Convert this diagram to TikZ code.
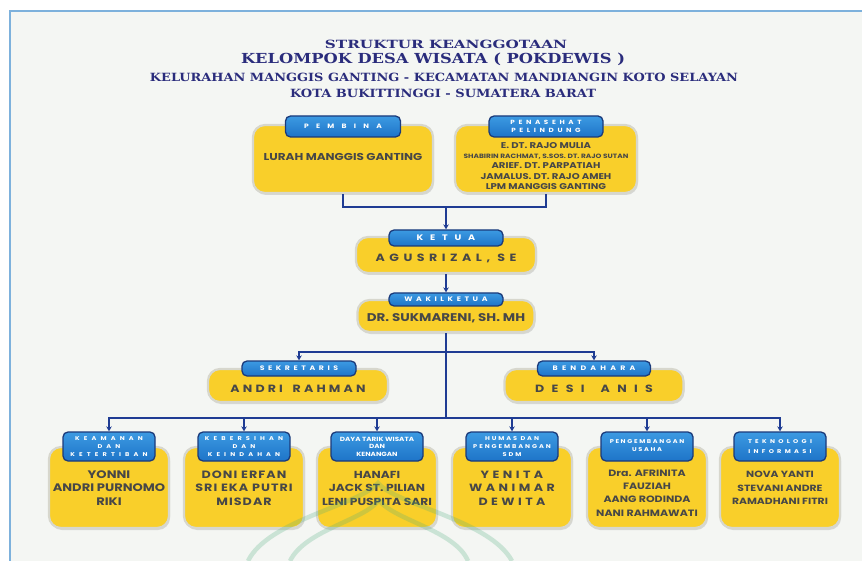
\documentclass[tikz,border=0pt]{standalone}
\usepackage{fontspec}
\setmainfont{Poppins}
\newfontfamily\wf{Poppins}[FakeStretch=1.2]
\newfontfamily\titlefont{DejaVu Serif}
\usetikzlibrary{arrows.meta,shadows}
\definecolor{ycol}{HTML}{F9CF2A}
\definecolor{bgcol}{HTML}{F4F6F3}
\definecolor{framecol}{HTML}{7DB1DC}
\definecolor{navy}{HTML}{1F3C93}
\definecolor{lblborder}{HTML}{1B3A7A}
\definecolor{btop}{HTML}{3C9AE2}
\definecolor{bbot}{HTML}{1E74C8}
\definecolor{tcol}{HTML}{474747}
\definecolor{titlecol}{HTML}{2A2C7C}
\definecolor{wmcol}{HTML}{4FAE7C}
\newcommand{\lsp}[2]{{\addfontfeatures{LetterSpace=#1}#2}}
\newcommand{\fs}[2]{\fontsize{#1}{#2}\selectfont}
\tikzset{
  ybox/.style={rectangle, rounded corners=12pt, fill=ycol, draw={rgb,255:red,215;green,215;blue,205}, line width=2.2pt,
    drop shadow={opacity=0.25, shadow xshift=1pt, shadow yshift=-2pt}, inner sep=0pt},
  blbl/.style={rectangle, rounded corners=5pt, top color=btop, bottom color=bbot, draw=lblborder, line width=1.3pt,
    inner sep=0pt, text=white, font=\bfseries\fs{6.5}{7.5}, align=center},
  txt/.style={inner sep=0pt, text=tcol, align=center, font=\wf\bfseries\fs{10}{13.5}},
  conn/.style={draw=navy, line width=2pt},
  arr/.style={-{Stealth[length=5pt,width=5.5pt]}},
  ttl/.style={inner sep=0pt, text=titlecol}
}
\begin{document}
\begin{tikzpicture}[x=1pt,y=-1pt]
\useasboundingbox (0,0) rectangle (862,561);
\fill[white] (0,0) rectangle (862,561);
\fill[bgcol] (10,11) rectangle (862,561);
\draw[framecol, line width=1.5pt] (10,561) -- (10,11) -- (862,11);

% title
\node[ttl] (t1) at (446,44) {\resizebox{242pt}{8.4pt}{\titlefont\bfseries STRUKTUR KEANGGOTAAN}};
\node[ttl] (t2) at (433,59.5) {\resizebox{384pt}{10.5pt}{\titlefont\bfseries KELOMPOK DESA WISATA ( POKDEWIS )}};
\node[ttl] (t3) at (444,77) {\resizebox{588pt}{8.4pt}{\titlefont\bfseries KELURAHAN MANGGIS GANTING - KECAMATAN MANDIANGIN KOTO SELAYAN}};
\node[ttl] (t4) at (443,93) {\resizebox{306pt}{8.4pt}{\titlefont\bfseries KOTA BUKITTINGGI - SUMATERA BARAT}};

% coordinates of connectors
\coordinate (j1) at (446,207);
\coordinate (m) at (446,352);
\coordinate (b) at (446,418);

% boxes
\node[ybox, minimum width=180pt, minimum height=68pt] (pembina) at (343,159) {};
\node[ybox, minimum width=182pt, minimum height=68pt] (penasehat) at (546,159) {};
\node[ybox, minimum width=180pt, minimum height=36pt] (ketua) at (446,255) {};
\node[ybox, minimum width=177pt, minimum height=32pt] (wakil) at (446,316) {};
\node[ybox, minimum width=180pt, minimum height=33pt] (sek) at (298,385.5) {};
\node[ybox, minimum width=179pt, minimum height=33pt] (ben) at (594,385.5) {};
\foreach \n/\cx in {k1/109,k2/244,k3/377,k4/512,k5/647,k6/780}{
  \node[ybox, minimum width=120pt, minimum height=81pt] (\n) at (\cx,487.5) {};
}

% connectors
\draw[conn] (pembina.south) |- (j1);
\draw[conn] (penasehat.south) |- (j1);
\draw[conn] (wakil.south) -- (b);

% labels
\node[blbl, minimum width=115pt, minimum height=21pt, font=\wf\bfseries\fs{6.3}{7.5}] (pembinaL) at (343,126.5) {\lsp{115}{PEMBINA}};
\node[blbl, minimum width=114pt, minimum height=21pt, font=\wf\bfseries\fs{6}{8.5}] (penasehatL) at (546,126.5) {\lsp{60}{PENASEHAT}\\\lsp{60}{PELINDUNG}};
\node[blbl, minimum width=114pt, minimum height=16pt, font=\wf\bfseries\fs{8}{9}] (ketuaL) at (446,238) {\lsp{85}{KETUA}};
\node[blbl, minimum width=114pt, minimum height=13pt, font=\wf\bfseries\fs{6.5}{7.5}] (wakilL) at (446,299.5) {\lsp{55}{WAKILKETUA}};
\node[blbl, minimum width=114pt, minimum height=15pt, font=\wf\bfseries\fs{6.5}{7.5}] (sekL) at (299,368.5) {\lsp{55}{SEKRETARIS}};
\node[blbl, minimum width=113pt, minimum height=15pt, font=\wf\bfseries\fs{6.5}{7.5}] (benL) at (594,368.5) {\lsp{65}{BENDAHARA}};

\draw[conn,arr] (j1) -- (ketuaL.north);
\draw[conn,arr] (ketua.south) -- (wakilL.north);
\draw[conn,arr] (m) -| (sekL.north);
\draw[conn,arr] (m) -| (benL.north);

\tikzset{blbs/.style={blbl, minimum width=92pt, minimum height=29pt, font=\wf\bfseries\fs{5.5}{7.6}}}
\node[blbs] (k1L) at (109,446.5) {\lsp{75}{KEAMANAN}\\\lsp{75}{DAN}\\\lsp{75}{KETERTIBAN}};
\node[blbs] (k2L) at (244,446.5) {\lsp{75}{KEBERSIHAN}\\\lsp{75}{DAN}\\\lsp{75}{KEINDAHAN}};
\node[blbs, font=\wf\bfseries\fs{6}{7.6}] (k3L) at (377,446.5) {DAYA TARIK WISATA\\DAN\\KENANGAN};
\node[blbs] (k4L) at (512,446.5) {\lsp{35}{HUMAS DAN}\\\lsp{35}{PENGEMBANGAN}\\\lsp{35}{SDM}};
\node[blbs, text height=10pt] (k5L) at (647,446.5) {\lsp{30}{PENGEMBANGAN}\\\lsp{30}{USAHA}};
\node[blbs, font=\wf\bfseries\fs{5.5}{10}] (k6L) at (780,446.5) {\lsp{60}{TEKNOLOGI}\\\lsp{60}{INFORMASI}};

\foreach \n in {k1,k2,k3,k4,k5,k6}{
  \draw[conn,arr] (b) -| (\n L.north);
}

% texts
\node[txt] (pembinaT) at (343,157) {LURAH MANGGIS GANTING};
\node[txt, font=\wf\bfseries\fs{8.4}{10.3}] (penasehatT) at (546,166)
  {E. DT. RAJO MULIA\\{\fs{6.2}{10.3}SHABIRIN RACHMAT, S.SOS. DT. RAJO SUTAN}\\ARIEF. DT. PARPATIAH\\JAMALUS. DT. RAJO AMEH\\LPM MANGGIS GANTING};
\node[txt, font=\wf\bfseries\fs{10.5}{12}] (ketuaT) at (446,258) {\lsp{43}{AGUSRIZAL, SE}};
\node[txt, font=\wf\bfseries\fs{11.2}{12}] (wakilT) at (446,318) {DR. SUKMARENI, SH. MH};
\node[txt, font=\wf\bfseries\fs{10.5}{12}] (sekT) at (298,389) {\lsp{30}{ANDRI\hspace{4pt} RAHMAN}};
\node[txt, font=\wf\bfseries\fs{10.5}{12}] (benT) at (594,389) {\lsp{70}{DESI\hspace{6pt} ANIS}};

\node[txt, font=\wf\bfseries\fs{10.9}{13.5}] (k1T) at (109,488) {YONNI\\ANDRI PURNOMO\\RIKI};
\node[txt, font=\wf\bfseries\fs{10.6}{13.5}] (k2T) at (244,488) {\lsp{10}{DONI ERFAN}\\\lsp{10}{SRI EKA PUTRI}\\\lsp{10}{MISDAR}};
\node[txt, font=\wf\bfseries\fs{10.2}{13.5}] (k3T) at (377,488) {HANAFI\\JACK ST. PILIAN\\LENI PUSPITA SARI};
\node[txt, font=\wf\bfseries\fs{10.5}{13.5}] (k4T) at (512,488) {\lsp{33}{YENITA}\\\lsp{33}{WANIMAR}\\\lsp{33}{DEWITA}};
\node[txt, font=\wf\bfseries\fs{9.2}{13.3}] (k5T) at (647,493) {Dra. AFRINITA\\FAUZIAH\\AANG RODINDA\\NANI RAHMAWATI};
\node[txt, font=\wf\bfseries\fs{9}{13.5}] (k6T) at (780,488) {NOVA YANTI\\STEVANI ANDRE\\RAMADHANI FITRI};

% faint watermark arches
\begin{scope}[draw=wmcol, line width=4.5pt, opacity=0.25]
\draw (248,561) .. controls (268,520) and (360,505) .. (378,483) .. controls (396,505) and (490,520) .. (512,561);
\draw (290,561) .. controls (305,530) and (365,520) .. (379,500) .. controls (393,520) and (455,530) .. (468,561);
\end{scope}
\end{tikzpicture}
\end{document}
